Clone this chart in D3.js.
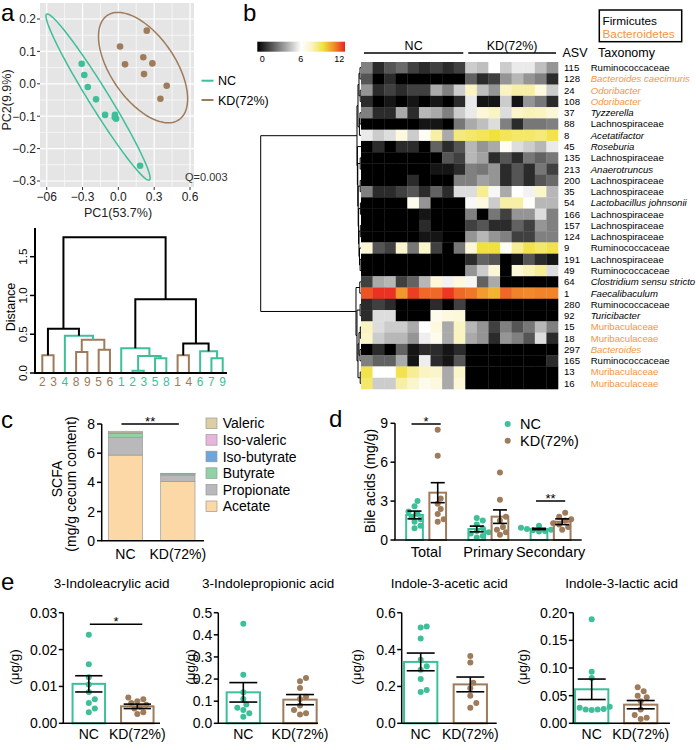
<!DOCTYPE html>
<html><head><meta charset="utf-8">
<script src="https://cdn.jsdelivr.net/npm/d3@7"></script>
<style>body{margin:0;background:#fff}svg{font-family:"Liberation Sans",Arial,sans-serif}</style>
</head><body><svg id="fig" width="696" height="750"></svg>
<script>
// ================= DATA =================
// Panel a: PCA scores
const pcaNC = [[-0.307,0.062],[-0.285,0.027],[-0.256,-0.010],[-0.187,-0.048],[-0.111,-0.096],[-0.028,-0.096],[-0.019,-0.108],[-0.030,-0.103],[0.182,-0.253]];
const pcaKD = [[0.014,0.115],[0.056,0.060],[0.238,0.164],[0.209,0.082],[0.285,0.063],[0.215,0.030],[0.405,-0.006],[0.352,-0.046]];
// ellipse: centre, major half-axis vector, minor half-axis vector (data units)
const ellipseNC = [-0.170,-0.041, 0.430,-0.256, 0.0712,0.0162];
const ellipseKD = [0.207,0.050, 0.300,-0.161, -0.222,-0.056];
const pcaXTicks = [-0.6,-0.3,0,0.3,0.6];
const pcaXLabels = ['\u221206','\u22120.3','0.0','0.3','0.6'];
const pcaYTicks = [0.2,0.1,0,-0.1,-0.2,-0.3];
// Panel a: dendrogram
const dendLeaves = ['2','3','4','8','9','5','6','1','2','3','5','8','1','4','6','7','9'];
const dendGroups = ['KD','KD','NC','KD','KD','KD','KD','NC','NC','NC','NC','NC','KD','KD','NC','NC','NC'];
const dendLinks = [[0,1,0.23],[3,4,0.27],[5,6,0.30],[18,19,0.43],[2,20,0.48],[17,21,0.57],[8,9,0.03],[10,11,0.19],[23,24,0.22],[7,25,0.32],[12,13,0.23],[15,16,0.19],[14,28,0.28],[27,29,0.38],[26,30,0.95],[22,31,1.75]];
const dendLinkColor = ['KD','KD','KD','KD','NC','mix','NC','NC','NC','NC','KD','NC','NC','mix','mix','mix'];
const dendTicks = [0,0.5,1.0,1.5];
// Panel b: heatmap
const asvIds = ['115','128','24','108','37','88','8','45','135','213','200','35','54','166','157','124','9','191','49','64','1','280','92','15','18','297','165','13','16'];
const asvTaxa = ['Ruminococcaceae','Bacteroides caecimuris','Odoribacter','Odoribacter','Tyzzerella','Lachnospiraceae','Acetatifactor','Roseburia','Lachnospiraceae','Anaerotruncus','Lachnospiraceae','Lachnospiraceae','Lactobacillus johnsonii','Lachnospiraceae','Lachnospiraceae','Lachnospiraceae','Ruminococcaceae','Lachnospiraceae','Ruminococcaceae','Clostridium sensu stricto','Faecalibaculum','Ruminococcaceae','Turicibacter','Muribaculaceae','Muribaculaceae','Bacteroides','Ruminococcaceae','Muribaculaceae','Muribaculaceae'];
const asvPhylum = ['F','B','B','B','F','F','F','F','F','F','F','F','F','F','F','F','F','F','F','F','F','F','F','B','B','B','F','B','B'];
const heatSamples = ['NC1','NC2','NC3','NC4','NC5','NC6','NC7','NC8','NC9','KD1','KD2','KD3','KD4','KD5','KD6','KD8','KD9'];
const heatValues = [
 [3,1,2,2.5,1.5,1,1.5,1,1.5, 4.8,4.5,6,4.8,5.5,5.5,4.5,3.5],
 [2,0,1,0,0,0,0,0,0, 2.3,1,1.5,3.5,4.3,3.5,3,1],
 [3.5,1,1.5,1,1.5,1.5,4,3,4.8, 7.5,4.5,3.5,7.5,7.8,7.8,6.8,4.8],
 [1,0,0.5,0,0.5,0,0.5,0,1, 5.5,0.5,0.5,4.8,0.5,3.5,2.8,1],
 [3,1,1,4,1,4.3,4,3,4.8, 5.5,7,7.5,5.2,7.3,7.6,7.5,7],
 [0,0,0,0,0,0.5,0.5,0,2.8, 4,4.5,5.2,3,1,2.8,2.8,3],
 [5.5,4.8,5.2,6.8,4.8,6.3,7.8,4,8.3, 8.5,8.7,9,8.7,8.5,8.5,8.3,8.8],
 [0,1,0,1,1,0,2.3,1,2, 4.3,3.5,4,6.3,5.2,4.8,4.3,5.5],
 [0,0,0,0,0,0,0,2,1.5, 4.3,3.8,1,2,1,2.8,2.3,2.8],
 [0,0,0,0,0,0,0.5,0.5,1, 3,2.8,3.5,1,2,1,2.8,1.5],
 [0,0,0,0,1,0,0,0,3, 3,3.8,3.5,1,2,1,2,2.5],
 [3,1,1,1.5,2,1,2.3,1,5.2, 5.2,8,5.8,4,6,5.7,7.3,4.3],
 [0,0,0,0,6.5,3.5,0,0,0, 5.8,6.8,4.8,7.8,7.8,6.1,4.3,4.3],
 [0,0,0,0,0,0.5,0,0,0, 3,0,2.8,1.5,3.5,3.5,5.2,3],
 [0,0,0,0,0,1,0,0,0, 1.5,2,1,1,2.3,1.5,3.5,3],
 [0,0,0,0,0,0.5,0.5,0,0, 3.5,4.3,3.5,3,1.5,1.5,3,3],
 [7,2,1.5,7.2,2.8,7.3,1.5,0,2.8, 7,9,9,6.3,8,8.8,8.5,8.8],
 [0,0,0,0,0,0,0,0,0, 1,2.3,2,0,0.5,2,1,0.5],
 [0,0,0,0,0,0,0,0,0, 3.5,4.8,7,0,7,7.6,8,5.2],
 [1.5,4,4.3,1.5,2.3,4.3,7,5.7,6.8, 5.8,2.3,4,0,0,0,0,0],
 [11.3,11.8,11.8,10.3,11.6,11,11,11.7,11, 10.8,10.2,9.8,11,10.6,10.5,10.6,10.6],
 [1,1.5,1,0,0,0,1,0,1.5, 0,0,0,0,0,0,0,0],
 [1,5.2,5.2,0,0,0,6.5,6.8,6.9, 0,0,0,0,0,0,0,0],
 [7.5,5.2,4.8,4.8,4,6,6.8,4,7.5, 4.3,3.5,1.5,3,2,2.8,4.3,3],
 [7.3,4.8,4.3,4.3,3.5,5.6,6.5,4,7.5, 4,3.5,1,3.5,3,2,5.2,1],
 [0,1,0,2.3,0.5,1,1,0.5,1, 0,0,0,0,0,0,0,0],
 [3,2.3,2.3,4,0.5,5.6,1,0.5,2, 0,0,0,0,0,0,0,1],
 [8.8,6,6,8.8,8,7.5,7.2,4,7.3, 0,0,0,0,0,0,0,0],
 [8.5,4.8,4.8,7.8,7.2,6.5,6.8,4,7, 0,0,0,0,0,0,0,0]
];
const heatLinks = [[0,1,1.0],[2,3,0.8],[29,30,2.0],[4,5,1.0],[32,6,1.6],[31,33,3.0],
 [8,9,0.8],[10,11,0.8],[12,13,0.6],[14,15,0.7],[17,18,0.9],[16,39,1.5],[38,40,2.0],[37,41,2.4],[36,42,2.8],[35,43,3.2],[7,44,3.6],[34,45,4.0],
 [19,20,1.2],[21,22,0.9],[23,24,0.7],[25,26,1.0],[49,50,2.0],[27,28,0.8],[51,52,3.0],[48,53,4.0],[47,54,5.0],[46,55,100]];
const heatTicks = [0,6,12];
// Panel c: SCFA
const scfaKeys = ['Acetate','Propionate','Butyrate','Iso-butyrate','Iso-valeric','Valeric'];
const scfaGroups = ['NC','KD(72%)'];
const scfaNC = [5.87,1.20,0.27,0.03,0.03,0.10];
const scfaKD = [4.05,0.45,0.08,0.01,0.01,0.02];
const scfaColors = ['#fbd8a6','#b9b9bc','#8ed2a6','#6ea6dc','#e8b5dc','#dccda3'];
const scfaTicks = [0,2,4,6,8];
// Panel d: bile acids
const bileCats = ['Total','Primary','Secondary'];
const bileMeanNC = [1.93,0.85,0.85];
const bileSemNC = [0.30,0.22,0.05];
const bileMeanKD = [3.65,1.80,1.41];
const bileSemKD = [0.77,0.52,0.22];
const bileNC = [[3.0,2.6,2.2,2.0,1.8,1.6,1.4,1.1,0.9],[1.7,1.5,1.2,0.9,0.7,0.6,0.5,0.3,0.2],[1.1,1.0,0.95,0.9,0.85,0.8,0.75,0.7,0.65]];
const bileKD = [[8.5,6.5,3.2,2.8,2.4,2.0,1.6,1.4],[5.2,3.1,1.8,1.5,1.0,0.8,0.6,0.4],[2.1,1.8,1.6,1.5,1.3,1.2,1.0,0.8]];
const bileTicks = [0,3,6,9];
// Panel e: indoles
const indoleNames = ['3-Indoleacrylic acid','3-Indolepropionic acid','Indole-3-acetic acid','Indole-3-lactic acid'];
const indoleMeanNC = [0.0107,0.140,0.333,0.0615];
const indoleSemNC = [0.0022,0.044,0.048,0.0185];
const indoleMeanKD = [0.0046,0.107,0.211,0.0337];
const indoleSemKD = [0.0006,0.023,0.040,0.0075];
const indoleNC = [[0.024,0.016,0.0125,0.0105,0.0085,0.0065,0.0055,0.004,0.003],[0.45,0.22,0.14,0.11,0.085,0.07,0.06,0.045,0.03],[0.52,0.525,0.46,0.345,0.31,0.29,0.24,0.18,0.17],[0.188,0.093,0.082,0.03,0.028,0.026,0.025,0.025,0.024]];
const indoleKD = [[0.007,0.0065,0.006,0.0055,0.005,0.0045,0.004,0.003,0.0025],[0.205,0.19,0.16,0.12,0.11,0.08,0.06,0.045,0.04],[0.365,0.33,0.22,0.19,0.15,0.11,0.085],[0.065,0.058,0.05,0.047,0.04,0.025,0.015,0.01,0.008]];
const indoleTicks = [[0,0.01,0.02,0.03],[0,0.1,0.2,0.3,0.4,0.5],[0,0.2,0.4,0.6],[0,0.05,0.10,0.15,0.20]];
const indoleFmt = ['.2f','.1f','.1f','.2f'];

// ================= DRAW =================
const svg = d3.select('#fig');
const NCc = '#3dbf99', KDc = '#9e7b5b', ORG = '#f7943c';
const grpColor = g => g === 'NC' ? NCc : (g === 'KD' ? KDc : '#000');
const minus = s => s.replace('-', '\u2212');

function txt(g, s, x, y, o = {}) {
  const t = g.append('text').attr('x', x).attr('y', y).text(s)
    .attr('font-size', o.size || 12).attr('fill', o.fill || '#000')
    .attr('text-anchor', o.anchor || 'start');
  if (o.italic) t.attr('font-style', 'italic');
  if (o.rot) t.attr('x', null).attr('y', null).attr('transform', `translate(${x},${y}) rotate(-90)`);
  return t;
}
// panel letters
[['a',1,21],['b',243,21],['c',1,428],['d',329,427],['e',1,590]].forEach(d => txt(svg, d[0], d[1], d[2], {size: 24}));

// ---------- Panel a: PCA ----------
{
  const g = svg.append('g');
  const x = d3.scaleLinear().domain([-0.6, 0.6]).range([46.7, 190]);
  const y = d3.scaleLinear().domain([-0.3, 0.2]).range([181, 19]);
  const L = 40, R = 194, T = 3, B = 187;
  g.append('rect').attr('x', L).attr('y', T).attr('width', R - L).attr('height', B - T).attr('fill', '#e5e5e5');
  const xMinor = d3.pairs(pcaXTicks).map(p => (p[0] + p[1]) / 2);
  const yMinor = d3.pairs(pcaYTicks).map(p => (p[0] + p[1]) / 2);
  xMinor.forEach(v => g.append('line').attr('x1', x(v)).attr('x2', x(v)).attr('y1', T).attr('y2', B).attr('stroke', '#fff').attr('stroke-width', 0.6));
  yMinor.forEach(v => g.append('line').attr('y1', y(v)).attr('y2', y(v)).attr('x1', L).attr('x2', R).attr('stroke', '#fff').attr('stroke-width', 0.6));
  pcaXTicks.forEach((v, i) => {
    g.append('line').attr('x1', x(v)).attr('x2', x(v)).attr('y1', T).attr('y2', B).attr('stroke', '#fff').attr('stroke-width', 1.2);
    g.append('line').attr('x1', x(v)).attr('x2', x(v)).attr('y1', B).attr('y2', B + 3).attr('stroke', '#333');
    txt(g, pcaXLabels[i], x(v), 201, {size: 12, anchor: 'middle', fill: '#222'});
  });
  pcaYTicks.forEach(v => {
    g.append('line').attr('y1', y(v)).attr('y2', y(v)).attr('x1', L).attr('x2', R).attr('stroke', '#fff').attr('stroke-width', 1.2);
    g.append('line').attr('y1', y(v)).attr('y2', y(v)).attr('x1', L - 3).attr('x2', L).attr('stroke', '#333');
    txt(g, minus(d3.format('.1f')(v)), L - 4, y(v) + 4.3, {size: 12, anchor: 'end', fill: '#222'});
  });
  txt(g, 'PC1(53.7%)', 118, 217, {size: 12.5, anchor: 'middle', fill: '#222'});
  txt(g, 'PC2(9.9%)', 11, 100, {size: 12.5, anchor: 'middle', rot: true, fill: '#222'});
  const ell = e => d3.line()(d3.range(0, 361, 3).map(t => {
    const r = t * Math.PI / 180;
    return [x(e[0] + e[2] * Math.cos(r) + e[4] * Math.sin(r)), y(e[1] + e[3] * Math.cos(r) + e[5] * Math.sin(r))];
  })) + 'Z';
  g.append('path').attr('d', ell(ellipseNC)).attr('fill', 'none').attr('stroke', NCc).attr('stroke-width', 1.5);
  g.append('path').attr('d', ell(ellipseKD)).attr('fill', 'none').attr('stroke', KDc).attr('stroke-width', 1.5);
  pcaNC.forEach(p => g.append('circle').attr('cx', x(p[0])).attr('cy', y(p[1])).attr('r', 3.3).attr('fill', NCc));
  pcaKD.forEach(p => g.append('circle').attr('cx', x(p[0])).attr('cy', y(p[1])).attr('r', 3.3).attr('fill', KDc));
  txt(g, 'Q=0.003', 185, 181, {size: 11, fill: '#333'});
  [['NC', NCc, 80.7], ['KD(72%)', KDc, 100]].forEach(d => {
    g.append('line').attr('x1', 201.5).attr('x2', 213.5).attr('y1', d[2]).attr('y2', d[2]).attr('stroke', d[1]).attr('stroke-width', 2);
    txt(g, d[0], 218, d[2] + 4.5, {size: 12.5});
  });
}

// generic dendrogram node positions
function dendro(n, links) {
  const pos = d3.range(n), ht = new Array(n).fill(0);
  links.forEach(([a, b, h]) => { pos.push((pos[a] + pos[b]) / 2); ht.push(h); });
  return {pos, ht};
}

// ---------- Panel a: dendrogram ----------
{
  const g = svg.append('g');
  const n = dendLeaves.length;
  const lx = d3.scaleLinear().domain([0, n - 1]).range([42.3, 222.7]);
  const y = d3.scaleLinear().domain([0, 1.87]).range([373, 228]);
  const {pos, ht} = dendro(n, dendLinks);
  dendLinks.forEach(([a, b, h], k) => {
    const p = d3.path();
    p.moveTo(lx(pos[a]), y(ht[a])); p.lineTo(lx(pos[a]), y(h)); p.lineTo(lx(pos[b]), y(h)); p.lineTo(lx(pos[b]), y(ht[b]));
    g.append('path').attr('d', p.toString()).attr('fill', 'none').attr('stroke', grpColor(dendLinkColor[k])).attr('stroke-width', 2);
  });
  g.append('line').attr('x1', 35).attr('x2', 35).attr('y1', y(0)).attr('y2', y(1.87)).attr('stroke', '#000').attr('stroke-width', 2);
  g.append('line').attr('x1', 34).attr('x2', 227).attr('y1', y(0)).attr('y2', y(0)).attr('stroke', '#000').attr('stroke-width', 2);
  dendTicks.forEach(v => {
    g.append('line').attr('x1', 30).attr('x2', 35).attr('y1', y(v)).attr('y2', y(v)).attr('stroke', '#000').attr('stroke-width', 1.5);
    txt(g, d3.format('.1f')(v), 27, y(v), {size: 11.5, anchor: 'middle', rot: true});
  });
  txt(g, 'Distance', 15, 307, {size: 12.5, anchor: 'middle', rot: true});
  dendLeaves.forEach((s, i) => txt(g, s, lx(i), 386, {size: 12, anchor: 'middle', fill: grpColor(dendGroups[i])}));
}

// ---------- Panel b: heatmap ----------
{
  const g = svg.append('g');
  const nR = asvIds.length;
  const cx = d3.scaleBand().domain(heatSamples).range([361, 558]);
  const ry = d3.scaleBand().domain(d3.range(nR)).range([62, 389]);
  const col = d3.scaleLinear().domain([0, 6, 7.5, 9, 10.5, 12])
    .range(['#000000', '#ffffff', '#faf3c2', '#f1e13c', '#f28a2c', '#e8241f']).clamp(true);
  heatValues.forEach((row, i) => row.forEach((v, j) => {
    g.append('rect').attr('x', cx(heatSamples[j])).attr('y', ry(i)).attr('width', cx.bandwidth() + 0.3).attr('height', ry.bandwidth() + 0.3).attr('fill', col(v));
  }));
  asvIds.forEach((id, i) => {
    const yy = ry(i) + ry.bandwidth() / 2 + 3.4;
    const c = asvPhylum[i] === 'B' ? ORG : '#000';
    txt(g, id, 564, yy, {size: 9.6});
    txt(g, asvTaxa[i], 590.7, yy, {size: 9.6, fill: c, italic: !/aceae$/.test(asvTaxa[i])});
  });
  // row dendrogram
  const {pos, ht} = dendro(nR, heatLinks);
  const hx = d3.scaleLinear().domain([0, 100]).range([361, 260.7]);
  const yy = p => ry(0) + (p + 0.5) * ry.step();
  heatLinks.forEach(([a, b, h]) => {
    const p = d3.path();
    p.moveTo(hx(ht[a]), yy(pos[a])); p.lineTo(hx(h), yy(pos[a])); p.lineTo(hx(h), yy(pos[b])); p.lineTo(hx(ht[b]), yy(pos[b]));
    g.append('path').attr('d', p.toString()).attr('fill', 'none').attr('stroke', '#000').attr('stroke-width', 1);
  });
  // headers
  const ncCols = heatSamples.filter(s => s.startsWith('NC')), kdCols = heatSamples.filter(s => s.startsWith('KD'));
  [[ncCols, 'NC'], [kdCols, 'KD(72%)']].forEach(([cols, lab]) => {
    const x0 = cx(cols[0]) + 3, x1 = cx(cols[cols.length - 1]) + cx.bandwidth() - 2;
    g.append('line').attr('x1', x0).attr('x2', x1).attr('y1', 53).attr('y2', 53).attr('stroke', '#000').attr('stroke-width', 1.5);
    txt(g, lab, (x0 + x1) / 2, 50, {size: 12.5, anchor: 'middle'});
  });
  txt(g, 'ASV', 562.5, 56.5, {size: 12.5});
  txt(g, 'Taxonomy', 598, 56.5, {size: 12.5});
  // phylum legend box
  g.append('rect').attr('x', 599.3).attr('y', 10).attr('width', 82.4).attr('height', 31.7).attr('fill', 'none').attr('stroke', '#000').attr('stroke-width', 1.5);
  txt(g, 'Firmicutes', 602.5, 24.5, {size: 11.8});
  txt(g, 'Bacteroidetes', 602.5, 37.5, {size: 11.8, fill: ORG});
  // colour bar
  const defs = svg.append('defs');
  const grad = defs.append('linearGradient').attr('id', 'hg');
  d3.range(0, 12.01, 0.5).forEach(v => grad.append('stop').attr('offset', (v / 12 * 100) + '%').attr('stop-color', col(v)));
  g.append('rect').attr('x', 257.3).attr('y', 41.7).attr('width', 87.7).attr('height', 10).attr('fill', 'url(#hg)');
  const cb = d3.scaleLinear().domain([0, 12]).range([262.3, 339.3]);
  heatTicks.forEach(v => txt(g, String(v), cb(v), 62, {size: 9, anchor: 'middle'}));
}

// ---------- Panel c: SCFA stacked bars ----------
{
  const g = svg.append('g');
  const y = d3.scaleLinear().domain([0, 8]).range([540.7, 424]);
  const x = d3.scaleBand().domain(scfaGroups).range([101.7, 201.6]).paddingInner(0.345).paddingOuter(0.126);
  const rows = [scfaNC, scfaKD].map((arr, gi) => { const o = {grp: scfaGroups[gi]}; scfaKeys.forEach((k, i) => o[k] = arr[i]); return o; });
  const series = d3.stack().keys(scfaKeys)(rows);
  series.forEach((s, si) => s.forEach(d => {
    g.append('rect').attr('x', x(d.data.grp)).attr('width', x.bandwidth())
      .attr('y', y(d[1])).attr('height', Math.max(0, y(d[0]) - y(d[1])))
      .attr('fill', scfaColors[si]).attr('stroke', '#9a9a9a').attr('stroke-width', 0.7);
  }));
  g.append('line').attr('x1', 101.7).attr('x2', 101.7).attr('y1', y(0)).attr('y2', y(8)).attr('stroke', '#000').attr('stroke-width', 1.5);
  g.append('line').attr('x1', 101).attr('x2', 204).attr('y1', y(0)).attr('y2', y(0)).attr('stroke', '#000').attr('stroke-width', 1.5);
  scfaTicks.forEach(v => {
    g.append('line').attr('x1', 97).attr('x2', 101.7).attr('y1', y(v)).attr('y2', y(v)).attr('stroke', '#000').attr('stroke-width', 1.5);
    txt(g, String(v), 95, y(v) + 5, {size: 14, anchor: 'end'});
  });
  scfaGroups.forEach(s => txt(g, s, x(s) + x.bandwidth() / 2, 558.5, {size: 14, anchor: 'middle'}));
  txt(g, 'SCFA', 61.5, 479, {size: 14, anchor: 'middle', rot: true});
  txt(g, '(mg/g cecum content)', 76, 484, {size: 14, anchor: 'middle', rot: true});
  const sx0 = x('NC') + x.bandwidth() / 2 - 4, sx1 = x('KD(72%)') + x.bandwidth() / 2 + 1;
  g.append('line').attr('x1', sx0).attr('x2', sx1).attr('y1', 424).attr('y2', 424).attr('stroke', '#000').attr('stroke-width', 1.5);
  txt(g, '**', (sx0 + sx1) / 2, 426, {size: 13, anchor: 'middle'});
  const ly = d3.scaleBand().domain(scfaKeys.slice().reverse()).range([415, 514.6]);
  scfaKeys.forEach((k, i) => {
    const cy = ly(k) + ly.bandwidth() / 2;
    g.append('rect').attr('x', 206).attr('y', cy - 5.3).attr('width', 11).attr('height', 10.6).attr('fill', scfaColors[i]).attr('stroke', '#9a9a9a').attr('stroke-width', 0.7);
    txt(g, k, 222.7, cy + 5, {size: 14});
  });
}

// beeswarm offsets
function swarm(vals, yf, r) {
  const idx = vals.map((v, i) => i).sort((a, b) => vals[a] - vals[b]);
  const placed = [], off = new Array(vals.length), d = 2 * r * 0.95;
  idx.forEach(i => {
    const py = yf(vals[i]);
    let best = 0;
    for (let k = 0; k < 40; k++) {
      const c = k === 0 ? 0 : (k % 2 ? 1 : -1) * Math.ceil(k / 2) * r;
      if (placed.every(p => Math.hypot(p[0] - c, p[1] - py) >= d)) { best = c; break; }
    }
    placed.push([best, py]); off[i] = best;
  });
  return off;
}
function barSem(g, cxp, w, y, mean, sem, vals, color, r) {
  g.append('rect').attr('x', cxp - w / 2).attr('y', y(mean)).attr('width', w).attr('height', y(0) - y(mean))
    .attr('fill', '#fff').attr('stroke', color).attr('stroke-width', 2);
  const offs = swarm(vals, y, r);
  vals.forEach((v, i) => g.append('circle').attr('cx', cxp + offs[i]).attr('cy', y(v)).attr('r', r).attr('fill', color));
  const cw = w * 0.42;
  g.append('line').attr('x1', cxp).attr('x2', cxp).attr('y1', y(mean - sem)).attr('y2', y(mean + sem)).attr('stroke', '#000').attr('stroke-width', 1.6);
  [mean - sem, mean + sem].forEach(v => g.append('line').attr('x1', cxp - cw).attr('x2', cxp + cw).attr('y1', y(v)).attr('y2', y(v)).attr('stroke', '#000').attr('stroke-width', 1.6));
}

// ---------- Panel d: bile acids ----------
{
  const g = svg.append('g');
  const y = d3.scaleLinear().domain([0, 9]).range([540, 423.3]);
  const x = d3.scaleBand().domain(bileCats).range([395, 581.7]).paddingInner(0.2).paddingOuter(0.1);
  const bw = 16.7, dx = 11.6;
  bileCats.forEach((c, i) => {
    const cc = x(c) + x.bandwidth() / 2;
    barSem(g, cc - dx, bw, y, bileMeanNC[i], bileSemNC[i], bileNC[i], NCc, 3);
    barSem(g, cc + dx, bw, y, bileMeanKD[i], bileSemKD[i], bileKD[i], KDc, 3);
    txt(g, c, cc, 556.5, {size: 14.5, anchor: 'middle'});
  });
  g.append('line').attr('x1', 395).attr('x2', 395).attr('y1', y(0)).attr('y2', y(9)).attr('stroke', '#000').attr('stroke-width', 1.5);
  g.append('line').attr('x1', 394.3).attr('x2', 581.7).attr('y1', y(0)).attr('y2', y(0)).attr('stroke', '#000').attr('stroke-width', 1.5);
  bileTicks.forEach(v => {
    g.append('line').attr('x1', 390.5).attr('x2', 395).attr('y1', y(v)).attr('y2', y(v)).attr('stroke', '#000').attr('stroke-width', 1.5);
    txt(g, String(v), 388, y(v) + 5, {size: 14, anchor: 'end'});
  });
  txt(g, 'Bile acids (mg/g)', 375, 481, {size: 14, anchor: 'middle', rot: true});
  const sig = (c, yv, s) => {
    const cc = x(c) + x.bandwidth() / 2;
    g.append('line').attr('x1', cc - dx - 3).attr('x2', cc + dx + 3).attr('y1', yv).attr('y2', yv).attr('stroke', '#000').attr('stroke-width', 1.5);
    txt(g, s, cc, yv + 2, {size: 13, anchor: 'middle'});
  };
  sig('Total', 424, '*'); sig('Secondary', 501, '**');
  [['NC', NCc, 424], ['KD(72%)', KDc, 440.7]].forEach(d => {
    g.append('circle').attr('cx', 507.7).attr('cy', d[2]).attr('r', 3).attr('fill', d[1]);
    txt(g, d[0], 520, d[2] + 5.2, {size: 14.5});
  });
}

// ---------- Panel e: indoles ----------
{
  const g = svg.append('g');
  const layout = [
    {ax: 63.3, end: 160, c: [88.8, 137.3], w: 32.5, lab: 19},
    {ax: 218.3, end: 318, c: [243.3, 300], w: 33.3, lab: 195},
    {ax: 401.7, end: 496.7, c: [420.7, 470.3], w: 33.3, lab: 361},
    {ax: 573.3, end: 670, c: [591.7, 640.7], w: 33.3, lab: 527}
  ];
  indoleNames.forEach((name, k) => {
    const L = layout[k];
    const tk = indoleTicks[k];
    const y = d3.scaleLinear().domain([0, tk[tk.length - 1]]).range([723.3, 612.7]);
    const x = d3.scalePoint().domain(['NC', 'KD(72%)']).range(L.c);
    barSem(g, x('NC'), L.w, y, indoleMeanNC[k], indoleSemNC[k], indoleNC[k], NCc, 3);
    barSem(g, x('KD(72%)'), L.w, y, indoleMeanKD[k], indoleSemKD[k], indoleKD[k], KDc, 3);
    g.append('line').attr('x1', L.ax).attr('x2', L.ax).attr('y1', y(0)).attr('y2', y(tk[tk.length - 1])).attr('stroke', '#000').attr('stroke-width', 1.5);
    g.append('line').attr('x1', L.ax - 0.7).attr('x2', L.end).attr('y1', y(0)).attr('y2', y(0)).attr('stroke', '#000').attr('stroke-width', 1.5);
    tk.forEach(v => {
      g.append('line').attr('x1', L.ax - 4.5).attr('x2', L.ax).attr('y1', y(v)).attr('y2', y(v)).attr('stroke', '#000').attr('stroke-width', 1.5);
      txt(g, d3.format(indoleFmt[k])(v), L.ax - 6, y(v) + 5, {size: 14, anchor: 'end'});
    });
    x.domain().forEach(s => txt(g, s, x(s), 739, {size: 14, anchor: 'middle'}));
    txt(g, name, (L.ax + L.end) / 2, 588, {size: 13.5, anchor: 'middle'});
    txt(g, '(\u03bcg/g)', L.lab, 667, {size: 13.5, anchor: 'middle', rot: true});
    if (k === 0) {
      g.append('line').attr('x1', x('NC') + 1).attr('x2', x('KD(72%)') + 5).attr('y1', 624.3).attr('y2', 624.3).attr('stroke', '#000').attr('stroke-width', 1.5);
      txt(g, '*', (x('NC') + x('KD(72%)')) / 2 + 3, 626.3, {size: 13, anchor: 'middle'});
    }
  });
}
</script></body></html>
